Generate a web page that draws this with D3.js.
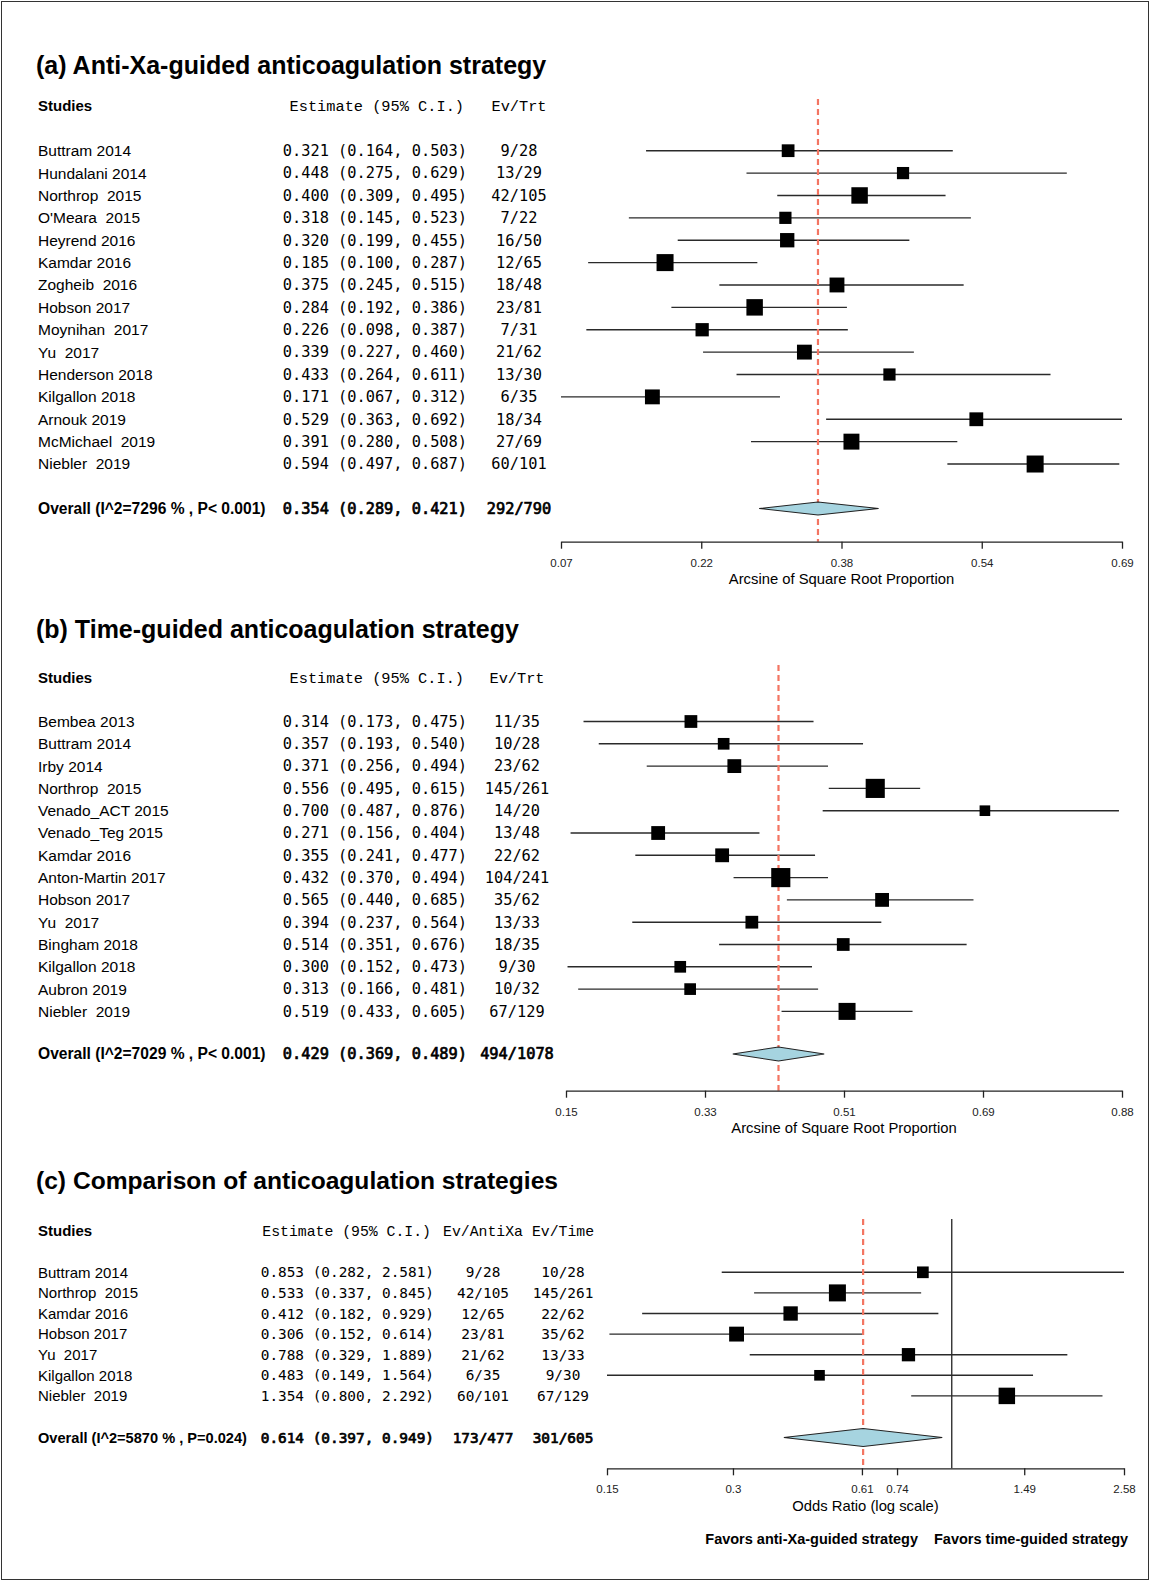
<!DOCTYPE html>
<html><head><meta charset="utf-8">
<script src="https://cdn.jsdelivr.net/npm/d3@7"></script>
<style>body{margin:0;background:#fff} text{white-space:pre}</style>
</head><body><svg id="chart" width="1150" height="1582"></svg>
<script>
// ---------- Panel (a) ----------
const titleA = "(a) Anti-Xa-guided anticoagulation strategy";
const studiesA = ["Buttram 2014","Hundalani 2014","Northrop  2015","O'Meara  2015","Heyrend 2016","Kamdar 2016","Zogheib  2016","Hobson 2017","Moynihan  2017","Yu  2017","Henderson 2018","Kilgallon 2018","Arnouk 2019","McMichael  2019","Niebler  2019"];
const estA  = [0.321,0.448,0.400,0.318,0.320,0.185,0.375,0.284,0.226,0.339,0.433,0.171,0.529,0.391,0.594];
const lowA  = [0.164,0.275,0.309,0.145,0.199,0.100,0.245,0.192,0.098,0.227,0.264,0.067,0.363,0.280,0.497];
const highA = [0.503,0.629,0.495,0.523,0.455,0.287,0.515,0.386,0.387,0.460,0.611,0.312,0.692,0.508,0.687];
const evA   = ["9/28","13/29","42/105","7/22","16/50","12/65","18/48","23/81","7/31","21/62","13/30","6/35","18/34","27/69","60/101"];
const weightA = [5.05,4.63,8.42,4.63,6.38,8.98,6.87,8.42,5.47,6.87,4.63,6.87,5.93,7.89,8.98];
const overallA = ["Overall (I^2=7296 % , P< 0.001)", 0.354, 0.289, 0.421, "292/790"];
const ticksA = ["0.07","0.22","0.38","0.54","0.69"];
const axisTitleA = "Arcsine of Square Root Proportion";

// ---------- Panel (b) ----------
const titleB = "(b) Time-guided anticoagulation strategy";
const studiesB = ["Bembea 2013","Buttram 2014","Irby 2014","Northrop  2015","Venado_ACT 2015","Venado_Teg 2015","Kamdar 2016","Anton-Martin 2017","Hobson 2017","Yu  2017","Bingham 2018","Kilgallon 2018","Aubron 2019","Niebler  2019"];
const estB  = [0.314,0.357,0.371,0.556,0.700,0.271,0.355,0.432,0.565,0.394,0.514,0.300,0.313,0.519];
const lowB  = [0.173,0.193,0.256,0.495,0.487,0.156,0.241,0.370,0.440,0.237,0.351,0.152,0.166,0.433];
const highB = [0.475,0.540,0.494,0.615,0.876,0.404,0.477,0.494,0.685,0.564,0.676,0.473,0.481,0.605];
const evB   = ["11/35","10/28","23/62","145/261","14/20","13/48","22/62","104/241","35/62","13/33","18/35","9/30","10/32","67/129"];
const weightB = [5.05,4.24,5.93,11.36,3.51,5.93,5.93,11.36,5.93,5.05,5.05,4.24,4.24,8.98];
const overallB = ["Overall (I^2=7029 % , P< 0.001)", 0.429, 0.369, 0.489, "494/1078"];
const ticksB = ["0.15","0.33","0.51","0.69","0.88"];
const axisTitleB = "Arcsine of Square Root Proportion";

// ---------- Panel (c) ----------
const titleC = "(c) Comparison of anticoagulation strategies";
const studiesC = ["Buttram 2014","Northrop  2015","Kamdar 2016","Hobson 2017","Yu  2017","Kilgallon 2018","Niebler  2019"];
const estC  = [0.853,0.533,0.412,0.306,0.788,0.483,1.354];
const lowC  = [0.282,0.337,0.182,0.152,0.329,0.149,0.800];
const highC = [2.581,0.845,0.929,0.614,1.889,1.564,2.292];
const evAntiXaC = ["9/28","42/105","12/65","23/81","21/62","6/35","60/101"];
const evTimeC   = ["10/28","145/261","22/62","35/62","13/33","9/30","67/129"];
const weightC = [4.24,8.98,6.39,6.87,5.48,3.51,8.43];
const overallC = ["Overall (I^2=5870 % , P=0.024)", 0.614, 0.397, 0.949, "173/477", "301/605"];
const ticksC = [0.15,0.3,0.61,0.74,1.49,2.58];
const axisTitleC = "Odds Ratio (log scale)";
const favorsLabels = ["Favors anti-Xa-guided strategy","Favors time-guided strategy"];

// ---------- drawing ----------
const svg = d3.select("#chart");
const SANS = "'Liberation Sans', Arial, sans-serif";
const MONO = "'DejaVu Sans Mono', monospace";
const COUR = "'Liberation Mono', 'Courier New', monospace";
const RED = "#f37562";
const f3 = d3.format(".3f");
const boxSize = d3.scaleSqrt().domain([0, 8.98]).range([0, 17]);

svg.append("rect").attr("x",1.5).attr("y",1.5).attr("width",1147).attr("height",1578)
  .attr("fill","none").attr("stroke","#333").attr("stroke-width",1);

function panel(p) {
  const g = svg.append("g");
  const t = (x, y, s, o = {}) => {
    const el = g.append("text").attr("x", x).attr("y", y).attr("dy", "0.35em")
      .attr("font-family", o.ff || SANS).attr("font-size", o.fs || p.labelFs)
      .attr("font-weight", o.fw || "normal").attr("text-anchor", o.anchor || "start")
      .attr("fill", "#000").text(s);
    if (o.heavy) el.attr("stroke", "#000").attr("stroke-width", 0.7);
    return el;
  };

  t(36, p.titleY, p.title, {fs: p.titleFs, fw: "bold"});
  t(38, p.studiesY, "Studies", {fw: "bold", fs: 15});
  t(p.estRight - 3, p.studiesY, "Estimate (95% C.I.)", {ff: COUR, fs: p.headFs, anchor: "end"});
  p.evHeaders.forEach((h, i) => t(p.evCenters[i], p.studiesY, h, {ff: COUR, fs: p.headFs, anchor: "middle"}));

  const rowY = i => p.rowY0 + i * p.rowStep;
  const x = p.x;

  p.studies.forEach((s, i) => {
    t(38, rowY(i), s);
    t(p.estRight, rowY(i), `${f3(p.est[i])} (${f3(p.low[i])}, ${f3(p.high[i])})`, {ff: MONO, fs: p.monoFs, anchor: "end"});
    p.evCols.forEach((col, k) => t(p.evCenters[k], rowY(i), col[i], {ff: MONO, fs: p.monoFs, anchor: "middle"}));
  });

  const ov = p.overall;
  t(38, p.overallY, ov[0], {fw: "bold", fs: p.overallFs});
  t(p.estRight, p.overallY, `${f3(ov[1])} (${f3(ov[2])}, ${f3(ov[3])})`, {ff: MONO, fs: p.monoFs, heavy: true, anchor: "end"});
  ov.slice(4).forEach((e, k) => t(p.evCenters[k], p.overallY, e, {ff: MONO, fs: p.monoFs, heavy: true, anchor: "middle"}));

  if (p.nullValue !== undefined) {
    g.append("line").attr("x1", x(p.nullValue)).attr("x2", x(p.nullValue))
      .attr("y1", p.refTop).attr("y2", p.axisY).attr("stroke", "#222").attr("stroke-width", 1.3);
  }

  const [r0, r1] = x.range();
  const cx = v => Math.max(r0, Math.min(r1, x(v)));
  p.studies.forEach((s, i) => {
    g.append("line").attr("x1", cx(p.low[i])).attr("x2", cx(p.high[i]))
      .attr("y1", rowY(i)).attr("y2", rowY(i)).attr("stroke", "#2a2a2a").attr("stroke-width", 1.4);
  });
  g.append("line").attr("x1", x(ov[1])).attr("x2", x(ov[1])).attr("y1", p.refTop).attr("y2", p.axisY)
    .attr("stroke", RED).attr("stroke-width", 2.2).attr("stroke-dasharray", "6,4");
  p.studies.forEach((s, i) => {
    const sz = boxSize(p.weight[i]);
    g.append("rect").attr("x", x(p.est[i]) - sz / 2).attr("y", rowY(i) - sz / 2)
      .attr("width", sz).attr("height", sz).attr("fill", "#000");
  });
  const h = p.diamondH, y = p.overallY;
  g.append("path").attr("d", `M${x(ov[2])},${y}L${x(ov[1])},${y - h}L${x(ov[3])},${y}L${x(ov[1])},${y + h}Z`)
    .attr("fill", "#a6d4e0").attr("stroke", "#222").attr("stroke-width", 1.1);

  const ax = g.append("g").attr("transform", `translate(0,${p.axisY})`)
    .call(d3.axisBottom(x).tickValues(p.tickValues).tickFormat((d, i) => p.tickLabels[i]).tickSize(7).tickSizeOuter(0));
  ax.select(".domain").attr("stroke", "#222").attr("stroke-width", 1.3);
  ax.selectAll(".tick line").attr("stroke", "#222").attr("stroke-width", 1.3);
  ax.selectAll(".tick text").attr("y", 21).attr("dy", "0.35em").attr("font-family", SANS)
    .attr("font-size", 11.5).attr("fill", "#222");
  t((r0 + r1) / 2, p.axisY + 37.6, p.axisTitle, {fs: 14.8, anchor: "middle"});
}

function evenTicks(lo, hi, k) { return d3.range(k).map(i => lo + i * (hi - lo) / (k - 1)); }

panel({
  title: titleA, titleY: 65, studiesY: 105.7, rowY0: 150.7, rowStep: 22.38, overallY: 508.5,
  axisY: 541.7, refTop: 99, diamondH: 6.5, titleFs: 25, labelFs: 15.5, monoFs: 15.3, headFs: 15.3, overallFs: 15.6,
  x: d3.scaleLinear().domain([0.07, 0.69]).range([561, 1122]),
  tickValues: evenTicks(0.07, 0.69, ticksA.length), tickLabels: ticksA, axisTitle: axisTitleA,
  studies: studiesA, est: estA, low: lowA, high: highA, weight: weightA,
  estRight: 467, evHeaders: ["Ev/Trt"], evCenters: [519], evCols: [evA], overall: overallA
});

panel({
  title: titleB, titleY: 629, studiesY: 677.3, rowY0: 721.5, rowStep: 22.3, overallY: 1054,
  axisY: 1090.7, refTop: 665, diamondH: 7, titleFs: 25, labelFs: 15.5, monoFs: 15.3, headFs: 15.3, overallFs: 15.6,
  x: d3.scaleLinear().domain([0.15, 0.88]).range([566, 1122]),
  tickValues: evenTicks(0.15, 0.88, ticksB.length), tickLabels: ticksB, axisTitle: axisTitleB,
  studies: studiesB, est: estB, low: lowB, high: highB, weight: weightB,
  estRight: 467, evHeaders: ["Ev/Trt"], evCenters: [517], evCols: [evB], overall: overallB
});

panel({
  title: titleC, titleY: 1180, studiesY: 1230.7, rowY0: 1272.3, rowStep: 20.6, overallY: 1437.5,
  axisY: 1468.3, refTop: 1219, diamondH: 9, nullValue: 1, titleFs: 24.6, labelFs: 15, monoFs: 14.4, headFs: 14.8, overallFs: 14.6,
  x: d3.scaleLog().domain([0.15, 2.58]).range([607, 1124]),
  tickValues: ticksC, tickLabels: ticksC.map(String), axisTitle: axisTitleC,
  studies: studiesC, est: estC, low: lowC, high: highC, weight: weightC,
  estRight: 434, evHeaders: ["Ev/AntiXa", "Ev/Time"], evCenters: [483, 563], evCols: [evAntiXaC, evTimeC], overall: overallC
});

svg.append("text").attr("x", 918).attr("y", 1539.3).attr("dy", "0.35em").attr("text-anchor", "end")
  .attr("font-family", SANS).attr("font-size", 14.5).attr("font-weight", "bold").attr("fill", "#000").text(favorsLabels[0]);
svg.append("text").attr("x", 934).attr("y", 1539.3).attr("dy", "0.35em").attr("text-anchor", "start")
  .attr("font-family", SANS).attr("font-size", 14.5).attr("font-weight", "bold").attr("fill", "#000").text(favorsLabels[1]);
</script></body></html>
